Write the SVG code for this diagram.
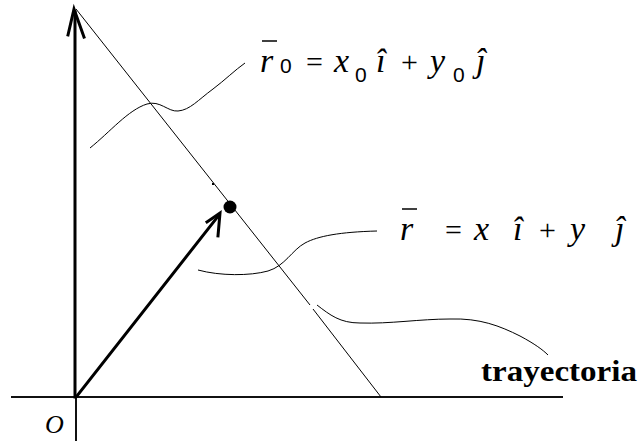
<svg xmlns="http://www.w3.org/2000/svg" width="644" height="441" viewBox="0 0 644 441">
<style>
.thin{fill:none;stroke:#000;stroke-width:1}
.ax{fill:none;stroke:#111;stroke-width:2}
.thick{fill:none;stroke:#000;stroke-width:3;stroke-linecap:square}
.bar{stroke:#000;stroke-width:1.5}
.eq{font-family:"Liberation Serif","DejaVu Serif",serif;font-style:italic;font-size:34px;fill:#000}
.op{font-style:normal;font-size:30px}
.sub{font-family:"Liberation Sans","DejaVu Sans",sans-serif;font-style:normal;font-size:21px}
</style>
<rect width="644" height="441" fill="#fff"/>
<g id="axes">
<line class="ax" x1="11" y1="397" x2="563" y2="397"/>
<line class="ax" x1="76" y1="397" x2="76" y2="441"/>
<line class="thick" x1="75" y1="397" x2="75" y2="12"/>
<polyline class="thick" points="68,35 74,9 84,37"/>
</g>
<g id="trajectory">
<line class="thin" x1="76" y1="9" x2="310" y2="305"/>
<line class="thin" x1="313" y1="309" x2="381" y2="397"/>
<rect x="212" y="183" width="2" height="2" fill="#000"/>
</g>
<g id="position-vector">
<line class="thick" x1="77" y1="396" x2="219" y2="215"/>
<polyline class="thick" points="207,222 220,213 218,236"/>
</g>
<g id="point">
<circle cx="230" cy="207" r="6.5" fill="#000"/>
</g>
<g id="connectors">
<path class="thin" d="M90,148 C110,132 128,110 147,104 C160,100 168,112 178,111 C190,110 198,100 213,89 C225,80 235,70 245,63"/>
<path class="thin" d="M198,270 C220,276 250,276 268,271 C285,266 292,250 305,243 C318,236 340,232 377,231"/>
<path class="thin" d="M317,305 C330,315 340,323 360,323 C390,324 420,319 450,319 C480,318 500,326 520,336 C535,344 543,350 548,355"/>
</g>
<g id="label-r0" class="eq">
<text x="260" y="72">r</text>
<line class="bar" x1="262" y1="41" x2="277" y2="41"/>
<text class="sub" x="280" y="73">0</text>
<text class="op" x="306" y="72">=</text>
<text x="334" y="72">x</text>
<text class="sub" x="355" y="82">0</text>
<text x="376" y="72">î</text>
<text class="op" x="401" y="72">+</text>
<text x="430" y="72">y</text>
<text class="sub" x="453" y="82">0</text>
<text x="476" y="72">ĵ</text>
</g>
<g id="label-r" class="eq">
<text x="400" y="240">r</text>
<line class="bar" x1="402" y1="209" x2="417" y2="209"/>
<text class="op" x="445" y="240">=</text>
<text x="474" y="240">x</text>
<text x="513" y="240">î</text>
<text class="op" x="539" y="240">+</text>
<text x="570" y="240">y</text>
<text x="615" y="240">ĵ</text>
</g>
<g id="label-trayectoria">
<text x="481" y="381" font-family="'Liberation Serif', 'DejaVu Serif', serif" font-weight="bold" font-size="30" fill="#000" textLength="156" lengthAdjust="spacingAndGlyphs">trayectoria</text>
</g>
<g id="label-origin">
<text x="45" y="433" font-family="'Liberation Serif', 'DejaVu Serif', serif" font-style="italic" font-size="26" fill="#000">O</text>
</g>
</svg>
